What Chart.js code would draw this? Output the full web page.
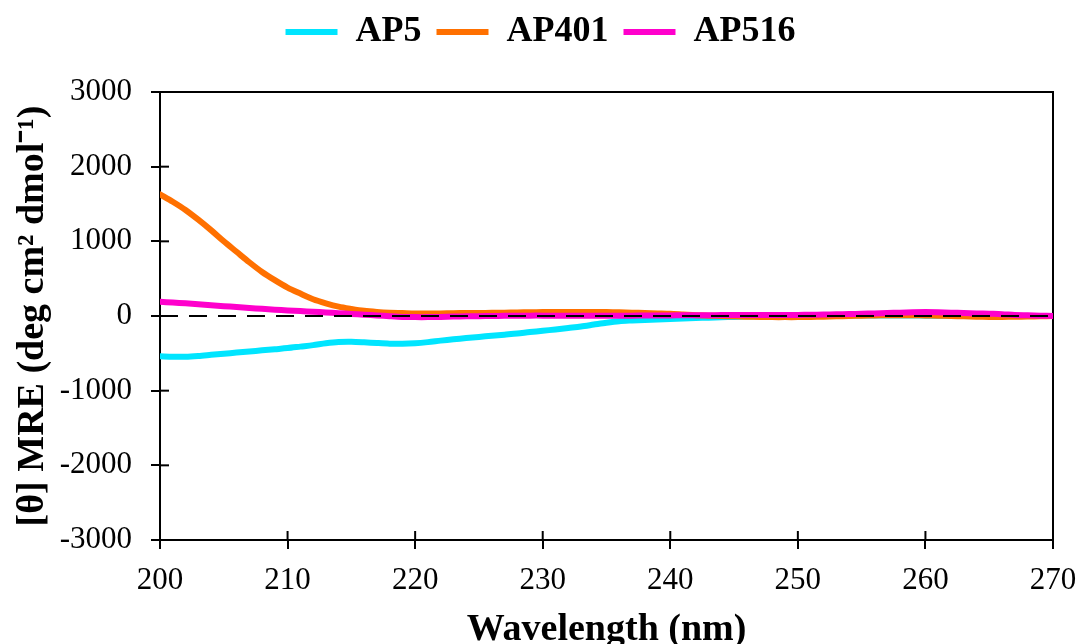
<!DOCTYPE html>
<html>
<head>
<meta charset="utf-8">
<script src="https://cdn.jsdelivr.net/npm/chart.js@4"></script>
<style>
  html, body { margin: 0; padding: 0; background: #fff; }
  #wrap { width: 1080px; height: 644px; }
</style>
</head>
<body>
<div id="wrap"><canvas id="c" width="1080" height="644"></canvas></div>
<script>
// Wavelengths (nm)
const wavelengths = [200,201,202,203,204,205,206,207,208,209,210,211,212,213,214,215,216,217,218,219,220,221,222,223,224,225,226,227,228,229,230,231,232,233,234,235,236,237,238,239,240,241,242,243,244,245,246,247,248,249,250,251,252,253,254,255,256,257,258,259,260,261,262,263,264,265,266,267,268,269,270];

const ap5 = [-540,-545,-545,-535,-520,-505,-490,-475,-460,-445,-430,-410,-390,-365,-348,-345,-352,-362,-370,-372,-365,-350,-330,-312,-295,-280,-265,-250,-235,-215,-198,-180,-160,-140,-115,-90,-70,-60,-52,-46,-40,-34,-28,-22,-17,-12,-8,-5,-2,0,2,3,4,5,5,6,6,6,6,6,5,5,4,3,2,2,1,1,0,0,0];

const ap401 = [1630,1530,1420,1290,1150,1000,860,720,590,480,380,300,225,170,125,95,70,55,45,40,35,35,35,38,40,40,42,45,48,50,52,55,55,55,55,52,50,45,40,35,30,20,10,5,0,-5,-10,-12,-15,-15,-15,-12,-10,-5,0,5,8,10,10,10,8,5,0,-5,-10,-12,-12,-10,-8,-5,0];

const ap516 = [190,180,170,158,145,132,120,108,96,85,75,66,57,48,38,28,18,8,-3,-12,-15,-15,-12,-8,-5,-2,0,2,3,5,5,5,5,5,5,5,5,5,6,7,8,9,10,11,12,13,14,15,15,15,15,17,19,22,26,30,35,40,45,50,52,50,45,40,35,30,25,15,10,5,0];

const zeroLineX = [200, 270];
const zeroLineY = [0, 0];

const xTicks = [200,210,220,230,240,250,260,270];
const yTicks = [-3000,-2000,-1000,0,1000,2000,3000];

const seriesNames = ['AP5', 'AP401', 'AP516'];
const seriesColors = ['#00E5FF', '#FF7000', '#FF00CC'];

const toXY = (xs, ys) => xs.map((x, i) => ({ x: x, y: ys[i] }));

const boxPlugin = {
  id: 'boxAndTicks',
  beforeLayout(chart) {
    const lg = chart.legend;
    if (lg && !lg._patched) {
      const fit = lg.fit;
      lg.fit = function () { fit.call(this); this.height += 32; };
      lg._patched = true;
    }
  },
  afterLayout(chart) {
    const lg = chart.legend;
    if (lg) { lg.left += 14; lg.right += 14; }
  },
  beforeDatasetsDraw(chart) {
    const { ctx, chartArea: a, scales } = chart;
    ctx.save();
    ctx.strokeStyle = '#000';
    ctx.lineWidth = 2;
    ctx.strokeRect(a.left, a.top, a.right - a.left, a.bottom - a.top);
    const len = 9;
    scales.y.ticks.forEach((t, i) => {
      const py = scales.y.getPixelForTick(i);
      ctx.beginPath(); ctx.moveTo(a.left, py); ctx.lineTo(a.left + len, py); ctx.stroke();
    });
    scales.x.ticks.forEach((t, i) => {
      const px = scales.x.getPixelForTick(i);
      ctx.beginPath(); ctx.moveTo(px, a.bottom); ctx.lineTo(px, a.bottom - len); ctx.stroke();
    });
    ctx.restore();
  }
};

const datasets = [
  {
    label: '__zero',
    data: toXY(zeroLineX, zeroLineY),
    borderColor: '#000',
    borderWidth: 2,
    borderDash: [18, 11],
    pointRadius: 0,
    tension: 0,
    order: 0
  }
];
[ap5, ap401, ap516].forEach((vals, i) => {
  datasets.push({
    label: seriesNames[i],
    data: toXY(wavelengths, vals),
    borderColor: seriesColors[i],
    backgroundColor: seriesColors[i],
    borderWidth: 6,
    borderCapStyle: 'round',
    pointRadius: 0,
    pointHoverRadius: 0,
    pointStyle: 'line',
    tension: 0.3,
    order: 3 - i
  });
});

const serif = '"Liberation Serif", "Times New Roman", serif';

new Chart(document.getElementById('c'), {
  type: 'line',
  data: { datasets },
  options: {
    responsive: false,
    animation: false,
    devicePixelRatio: 1,
    layout: { padding: { left: 0, right: 27, top: -1, bottom: 0 } },
    plugins: {
      tooltip: { enabled: false },
      legend: {
        position: 'top',
        labels: {
          filter: (item) => item.text !== '__zero',
          sort: (a, b) => a.datasetIndex - b.datasetIndex,
          usePointStyle: true,
          pointStyleWidth: 52,
          padding: 15,
          color: '#000',
          font: { family: serif, size: 36, weight: 'bold' }
        }
      }
    },
    scales: {
      x: {
        type: 'linear',
        min: 200, max: 270,
        afterFit: (s) => { s.height = 104; s.paddingRight = 0; s.paddingLeft = 0; },
        afterBuildTicks: (s) => { s.ticks = xTicks.map(v => ({ value: v })); },
        ticks: {
          color: '#000',
          padding: 13,
          callback: (v) => String(v),
          font: { family: serif, size: 31 }
        },
        grid: { drawOnChartArea: false, drawTicks: true, tickLength: 9, color: '#000', lineWidth: 2 },
        border: { display: true, color: '#000', width: 2 },
        title: {
          display: true,
          text: 'Wavelength (nm)',
          color: '#000',
          padding: { top: 0, bottom: -5 },
          font: { family: serif, size: 38, weight: 'bold', lineHeight: 1.0 }
        }
      },
      y: {
        type: 'linear',
        min: -3000, max: 3000,
        afterFit: (s) => { s.width = 160; },
        afterBuildTicks: (s) => { s.ticks = yTicks.map(v => ({ value: v })); },
        ticks: {
          color: '#000',
          padding: 19,
          callback: (v) => String(v),
          font: { family: serif, size: 31 }
        },
        grid: { drawOnChartArea: false, drawTicks: true, tickLength: 9, color: '#000', lineWidth: 2 },
        border: { display: true, color: '#000', width: 2 },
        title: {
          display: true,
          text: '[θ] MRE (deg cm² dmol⁻¹)',
          color: '#000',
          padding: { top: 14, bottom: 0 },
          font: { family: serif, size: 38, weight: 'bold', lineHeight: 1.0 }
        }
      }
    }
  },
  plugins: [boxPlugin]
});
</script>
</body>
</html>
